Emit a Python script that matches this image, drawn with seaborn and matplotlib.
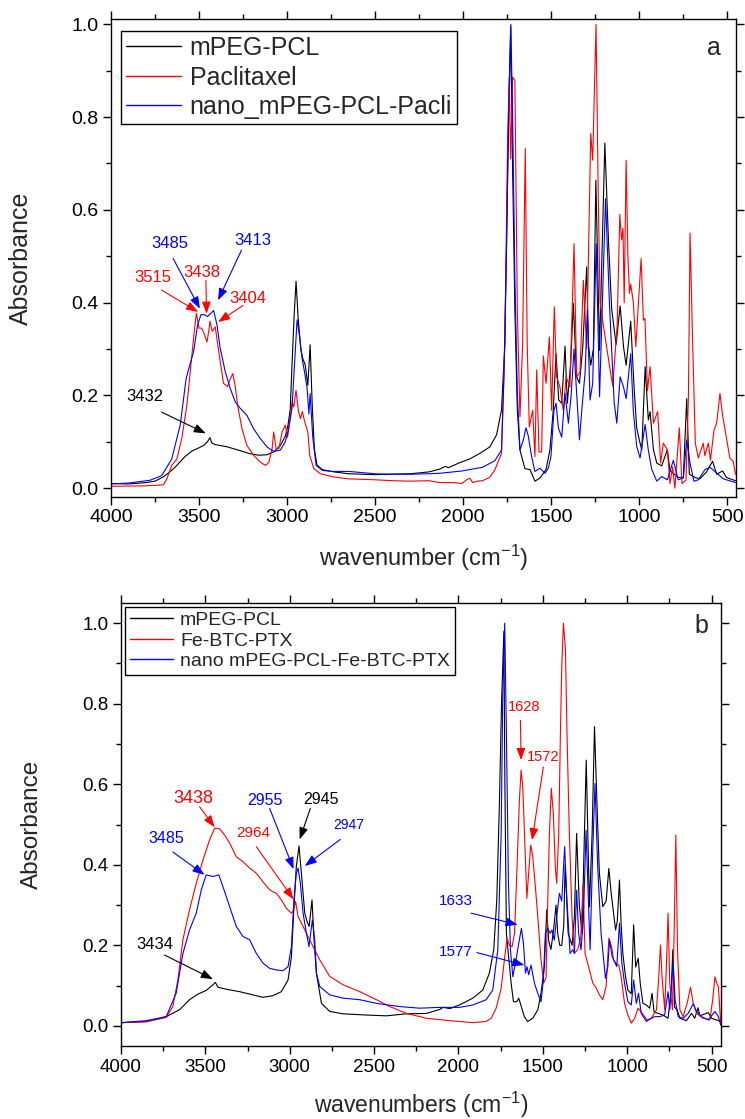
import matplotlib
matplotlib.use("Agg")
import matplotlib.pyplot as plt
import seaborn as sns
import pandas as pd
from matplotlib.ticker import MultipleLocator, FormatStrFormatter

# ---------------- data: panel a ----------------
a_peg_wn = [4000, 3900, 3800, 3750, 3700, 3650, 3626, 3580, 3540, 3500, 3470, 3452, 3438, 3428, 3410, 3380, 3340, 3304,
            3250, 3209, 3160, 3114, 3076, 3038, 3010, 2995, 2982, 2972, 2960, 2949, 2937, 2922, 2911, 2897, 2882, 2869,
            2857, 2845, 2830, 2800, 2734, 2650, 2500, 2428, 2300, 2194, 2133, 2100, 2085, 2060, 2019, 1962, 1905, 1848,
            1810, 1782, 1763, 1744, 1730, 1721, 1706, 1692, 1677, 1649, 1620, 1592, 1563, 1529, 1507, 1488, 1472, 1457,
            1440, 1421, 1408, 1389, 1374, 1355, 1339, 1320, 1298, 1288, 1275, 1260, 1246, 1225, 1195, 1174, 1156, 1131,
            1108, 1089, 1074, 1048, 1029, 1014, 995, 985, 966, 948, 938, 919, 900, 872, 840, 825, 778, 749, 730, 715,
            683, 655, 617, 583, 560, 526, 504, 453]
a_peg_abs = [0.010, 0.009, 0.012, 0.015, 0.025, 0.040, 0.049, 0.068, 0.080, 0.087, 0.093, 0.100, 0.109, 0.098, 0.094,
             0.092, 0.089, 0.085, 0.079, 0.074, 0.071, 0.072, 0.078, 0.092, 0.112, 0.135, 0.170, 0.265, 0.370, 0.446,
             0.367, 0.300, 0.280, 0.266, 0.222, 0.309, 0.179, 0.085, 0.050, 0.040, 0.035, 0.031, 0.029, 0.030, 0.031,
             0.035, 0.041, 0.047, 0.044, 0.048, 0.055, 0.063, 0.075, 0.089, 0.115, 0.168, 0.310, 0.740, 0.995, 0.740,
             0.384, 0.168, 0.082, 0.042, 0.040, 0.015, 0.022, 0.040, 0.082, 0.168, 0.290, 0.190, 0.183, 0.306, 0.183,
             0.270, 0.398, 0.240, 0.226, 0.306, 0.477, 0.310, 0.265, 0.300, 0.664, 0.297, 0.744, 0.530, 0.386, 0.310,
             0.393, 0.305, 0.265, 0.360, 0.218, 0.130, 0.097, 0.083, 0.262, 0.147, 0.165, 0.083, 0.054, 0.048, 0.083,
             0.038, 0.023, 0.023, 0.193, 0.030, 0.023, 0.020, 0.035, 0.058, 0.030, 0.037, 0.023, 0.016]

a_ptx_wn = [4000, 3800, 3702, 3683, 3655, 3626, 3598, 3569, 3546, 3527, 3515, 3500, 3486, 3473, 3455, 3444, 3438, 3425,
            3408, 3394, 3380, 3361, 3338, 3323, 3308, 3294, 3281, 3256, 3228, 3190, 3152, 3123, 3104, 3085, 3076, 3062,
            3047, 3028, 3010, 2997, 2971, 2962, 2949, 2935, 2924, 2913, 2901, 2882, 2871, 2848, 2810, 2734, 2650, 2500,
            2400, 2300, 2194, 2133, 2054, 2007, 1977, 1962, 1945, 1920, 1890, 1850, 1820, 1782, 1763, 1748, 1738, 1730,
            1719, 1706, 1692, 1677, 1662, 1647, 1636, 1624, 1605, 1592, 1582, 1569, 1554, 1544, 1529, 1510, 1497, 1482,
            1469, 1450, 1431, 1415, 1393, 1370, 1355, 1336, 1317, 1298, 1275, 1264, 1245, 1232, 1222, 1199, 1165, 1150,
            1125, 1110, 1100, 1092, 1085, 1074, 1064, 1055, 1048, 1033, 1019, 989, 976, 967, 953, 938, 919, 895, 878,
            863, 840, 825, 810, 797, 772, 757, 734, 720, 711, 696, 681, 664, 636, 627, 607, 595, 575, 560, 541, 526,
            504, 485, 466, 453]
a_ptx_abs = [0.004, 0.005, 0.007, 0.020, 0.049, 0.063, 0.107, 0.179, 0.265, 0.338, 0.377, 0.345, 0.345, 0.335, 0.315,
             0.340, 0.360, 0.338, 0.348, 0.310, 0.273, 0.226, 0.219, 0.235, 0.247, 0.219, 0.179, 0.128, 0.092, 0.071,
             0.056, 0.049, 0.055, 0.085, 0.121, 0.085, 0.085, 0.121, 0.136, 0.110, 0.186, 0.175, 0.211, 0.165, 0.150,
             0.165, 0.145, 0.121, 0.070, 0.042, 0.031, 0.024, 0.020, 0.018, 0.016, 0.015, 0.016, 0.012, 0.012, 0.010,
             0.019, 0.021, 0.012, 0.015, 0.016, 0.023, 0.039, 0.075, 0.310, 0.735, 0.886, 0.710, 0.886, 0.879, 0.384,
             0.154, 0.310, 0.732, 0.310, 0.132, 0.168, 0.068, 0.255, 0.078, 0.078, 0.285, 0.226, 0.326, 0.168, 0.391,
             0.240, 0.218, 0.168, 0.240, 0.218, 0.527, 0.240, 0.250, 0.448, 0.300, 0.765, 0.707, 1.000, 0.620, 0.400,
             0.340, 0.255, 0.220, 0.350, 0.590, 0.535, 0.560, 0.400, 0.707, 0.500, 0.420, 0.440, 0.400, 0.305, 0.495,
             0.362, 0.366, 0.210, 0.262, 0.140, 0.165, 0.054, 0.097, 0.083, 0.010, 0.046, 0.000, 0.130, 0.010, 0.017,
             0.200, 0.550, 0.310, 0.097, 0.065, 0.097, 0.070, 0.097, 0.060, 0.125, 0.140, 0.204, 0.157, 0.107, 0.065,
             0.058, 0.030]

a_nano_wn = [4000, 3900, 3778, 3712, 3655, 3607, 3573, 3550, 3531, 3508, 3489, 3470, 3452, 3433, 3417, 3398, 3380, 3351,
             3323, 3294, 3266, 3228, 3190, 3152, 3114, 3076, 3038, 3010, 2991, 2972, 2958, 2943, 2930, 2915, 2901, 2886,
             2876, 2869, 2854, 2835, 2797, 2740, 2649, 2500, 2428, 2300, 2200, 2133, 2007, 1890, 1820, 1782, 1768, 1753,
             1742, 1729, 1719, 1706, 1692, 1677, 1658, 1643, 1630, 1611, 1592, 1563, 1535, 1516, 1501, 1484, 1472, 1459,
             1440, 1421, 1402, 1387, 1370, 1355, 1339, 1326, 1307, 1294, 1279, 1264, 1244, 1225, 1191, 1169, 1142, 1127,
             1108, 1089, 1074, 1048, 1033, 1014, 995, 966, 948, 929, 900, 872, 840, 806, 778, 749, 730, 711, 689, 664,
             626, 598, 564, 522, 453]
a_nano_abs = [0.009, 0.011, 0.017, 0.027, 0.063, 0.136, 0.237, 0.269, 0.294, 0.352, 0.374, 0.374, 0.370, 0.377, 0.383,
              0.352, 0.302, 0.251, 0.215, 0.186, 0.172, 0.157, 0.128, 0.107, 0.089, 0.079, 0.082, 0.100, 0.128, 0.172,
              0.265, 0.363, 0.330, 0.280, 0.251, 0.215, 0.160, 0.204, 0.110, 0.049, 0.038, 0.036, 0.036, 0.031, 0.030,
              0.030, 0.031, 0.032, 0.037, 0.045, 0.059, 0.082, 0.240, 0.527, 0.810, 1.000, 0.810, 0.455, 0.204, 0.082,
              0.104, 0.130, 0.113, 0.068, 0.036, 0.043, 0.032, 0.043, 0.068, 0.168, 0.183, 0.130, 0.110, 0.204, 0.140,
              0.197, 0.300, 0.204, 0.104, 0.168, 0.250, 0.384, 0.190, 0.226, 0.527, 0.197, 0.624, 0.400, 0.185, 0.140,
              0.240, 0.218, 0.193, 0.290, 0.165, 0.090, 0.065, 0.137, 0.082, 0.041, 0.015, 0.025, 0.018, 0.060, 0.018,
              0.022, 0.104, 0.054, 0.015, 0.018, 0.040, 0.045, 0.034, 0.020, 0.012]

# ---------------- data: panel b ----------------
b_peg_wn = [4000, 3850, 3732, 3653, 3594, 3544, 3495, 3455, 3441, 3425, 3376, 3297, 3218, 3159, 3100, 3050, 3010, 2990,
            2975, 2961, 2945, 2931, 2911, 2897, 2885, 2868, 2856, 2842, 2812, 2763, 2684, 2546, 2427, 2308, 2190, 2110,
            2091, 2051, 1994, 1915, 1856, 1817, 1791, 1773, 1757, 1745, 1731, 1725, 1716, 1688, 1674, 1655, 1643, 1629,
            1610, 1590, 1560, 1530, 1511, 1491, 1477, 1465, 1452, 1436, 1422, 1412, 1400, 1388, 1376, 1368, 1350, 1327,
            1313, 1300, 1284, 1268, 1243, 1224, 1208, 1194, 1180, 1165, 1145, 1125, 1109, 1095, 1081, 1069, 1059, 1046,
            1036, 1026, 1010, 996, 976, 962, 950, 935, 923, 907, 887, 867, 853, 841, 817, 788, 758, 748, 738, 730, 720,
            704, 688, 649, 619, 600, 580, 570, 520, 500, 446]
b_peg_abs = [0.008, 0.011, 0.023, 0.040, 0.065, 0.079, 0.088, 0.102, 0.108, 0.096, 0.091, 0.085, 0.077, 0.071, 0.075,
             0.085, 0.114, 0.172, 0.296, 0.396, 0.447, 0.379, 0.280, 0.259, 0.247, 0.313, 0.214, 0.131, 0.056, 0.036,
             0.030, 0.027, 0.025, 0.030, 0.031, 0.041, 0.046, 0.043, 0.052, 0.069, 0.089, 0.131, 0.189, 0.313, 0.561,
             0.800, 0.980, 0.600, 0.230, 0.106, 0.060, 0.060, 0.069, 0.050, 0.023, 0.011, 0.019, 0.040, 0.081, 0.147,
             0.288, 0.210, 0.190, 0.240, 0.300, 0.230, 0.200, 0.200, 0.250, 0.400, 0.230, 0.200, 0.271, 0.478, 0.300,
             0.230, 0.660, 0.296, 0.478, 0.743, 0.561, 0.379, 0.296, 0.310, 0.391, 0.329, 0.280, 0.238, 0.260, 0.362,
             0.250, 0.180, 0.122, 0.089, 0.080, 0.251, 0.146, 0.168, 0.106, 0.056, 0.052, 0.044, 0.081, 0.035, 0.031,
             0.027, 0.019, 0.056, 0.100, 0.189, 0.047, 0.040, 0.019, 0.013, 0.031, 0.019, 0.045, 0.025, 0.033, 0.019,
             0.011]

b_fe_wn = [4000, 3850, 3732, 3693, 3663, 3633, 3594, 3554, 3514, 3475, 3445, 3415, 3386, 3356, 3317, 3277, 3238, 3198,
           3159, 3119, 3095, 3079, 3050, 3020, 2990, 2980, 2965, 2951, 2921, 2892, 2862, 2822, 2763, 2684, 2585, 2486,
           2407, 2308, 2190, 2051, 1994, 1915, 1836, 1806, 1777, 1747, 1728, 1712, 1698, 1682, 1668, 1653, 1639, 1629,
           1619, 1609, 1595, 1586, 1572, 1560, 1546, 1530, 1511, 1495, 1481, 1471, 1461, 1450, 1438, 1426, 1418, 1406,
           1396, 1388, 1378, 1366, 1357, 1343, 1327, 1313, 1293, 1275, 1262, 1250, 1224, 1204, 1185, 1165, 1145, 1125,
           1109, 1093, 1081, 1065, 1050, 1036, 1016, 996, 976, 956, 936, 911, 883, 857, 827, 813, 803, 794, 778, 768,
           758, 748, 732, 722, 712, 702, 688, 669, 645, 625, 609, 589, 550, 510, 494, 480, 470, 460, 446]
b_fe_abs = [0.008, 0.010, 0.021, 0.048, 0.114, 0.214, 0.288, 0.354, 0.412, 0.462, 0.491, 0.489, 0.474, 0.454, 0.420,
            0.408, 0.392, 0.379, 0.358, 0.338, 0.332, 0.329, 0.313, 0.292, 0.280, 0.285, 0.309, 0.272, 0.247, 0.222,
            0.197, 0.164, 0.123, 0.102, 0.085, 0.065, 0.048, 0.031, 0.019, 0.013, 0.011, 0.008, 0.011, 0.019, 0.044,
            0.093, 0.164, 0.218, 0.200, 0.197, 0.230, 0.395, 0.561, 0.635, 0.594, 0.478, 0.317, 0.370, 0.449, 0.420,
            0.354, 0.271, 0.164, 0.106, 0.120, 0.313, 0.478, 0.590, 0.528, 0.395, 0.354, 0.478, 0.726, 0.892, 1.000,
            0.933, 0.726, 0.478, 0.271, 0.180, 0.190, 0.220, 0.350, 0.180, 0.139, 0.106, 0.095, 0.077, 0.065, 0.098,
            0.218, 0.197, 0.164, 0.155, 0.151, 0.122, 0.056, 0.027, 0.007, 0.019, 0.044, 0.031, 0.015, 0.019, 0.040,
            0.122, 0.201, 0.122, 0.040, 0.147, 0.280, 0.106, 0.040, 0.230, 0.474, 0.188, 0.040, 0.023, 0.056, 0.096,
            0.056, 0.031, 0.019, 0.015, 0.064, 0.122, 0.106, 0.098, 0.007]

b_nano_wn = [4000, 3850, 3732, 3673, 3633, 3594, 3554, 3524, 3495, 3455, 3420, 3396, 3356, 3317, 3277, 3238, 3198, 3159,
             3119, 3079, 3040, 3010, 2990, 2975, 2961, 2951, 2937, 2921, 2901, 2886, 2866, 2852, 2842, 2822, 2763, 2684,
             2585, 2486, 2348, 2229, 2112, 1994, 1915, 1836, 1797, 1767, 1747, 1738, 1726, 1716, 1704, 1692, 1678, 1659,
             1643, 1627, 1615, 1603, 1594, 1584, 1570, 1550, 1530, 1511, 1497, 1485, 1471, 1457, 1446, 1432, 1418, 1402,
             1388, 1371, 1357, 1339, 1323, 1313, 1300, 1288, 1274, 1260, 1244, 1230, 1220, 1205, 1191, 1175, 1155, 1129,
             1115, 1105, 1089, 1075, 1062, 1046, 1032, 1016, 996, 976, 962, 946, 933, 917, 887, 857, 837, 808, 778, 758,
             748, 728, 716, 698, 669, 639, 609, 589, 560, 520, 480, 460, 446]
b_nano_abs = [0.008, 0.013, 0.023, 0.081, 0.180, 0.238, 0.280, 0.338, 0.375, 0.371, 0.375, 0.346, 0.296, 0.247, 0.222,
              0.214, 0.180, 0.156, 0.143, 0.139, 0.137, 0.147, 0.197, 0.313, 0.379, 0.392, 0.354, 0.280, 0.230, 0.197,
              0.263, 0.214, 0.131, 0.098, 0.077, 0.069, 0.065, 0.056, 0.048, 0.044, 0.046, 0.046, 0.052, 0.065, 0.089,
              0.189, 0.478, 0.809, 1.000, 0.727, 0.354, 0.189, 0.122, 0.164, 0.205, 0.242, 0.205, 0.131, 0.147, 0.127,
              0.151, 0.106, 0.081, 0.060, 0.114, 0.230, 0.242, 0.230, 0.238, 0.213, 0.271, 0.329, 0.310, 0.445, 0.310,
              0.180, 0.189, 0.180, 0.337, 0.230, 0.189, 0.263, 0.486, 0.310, 0.189, 0.428, 0.602, 0.395, 0.230, 0.118,
              0.147, 0.213, 0.172, 0.159, 0.147, 0.255, 0.156, 0.106, 0.060, 0.052, 0.114, 0.056, 0.081, 0.031, 0.011,
              0.019, 0.023, 0.023, 0.027, 0.085, 0.040, 0.160, 0.064, 0.023, 0.019, 0.031, 0.055, 0.036, 0.023, 0.015,
              0.036, 0.023, 0.002]

a_labels = ["mPEG-PCL", "Paclitaxel", "nano_mPEG-PCL-Pacli"]
b_labels = ["mPEG-PCL", "Fe-BTC-PTX", "nano mPEG-PCL-Fe-BTC-PTX"]
colors = ["#000000", "#ff0000", "#0000ff"]

# annotations: (text, color, fontsize, text_xy, arrow_tail, arrow_tip)
a_notes = [
    ("3485", "#0000ff", 12, (3665, 0.527), (3647, 0.495), (3495, 0.387)),
    ("3413", "#0000ff", 12, (3193, 0.534), (3259, 0.513), (3392, 0.405)),
    ("3515", "#ff0000", 12, (3760, 0.455), (3713, 0.427), (3505, 0.380)),
    ("3438", "#ff0000", 12, (3486, 0.466), (3461, 0.448), (3457, 0.376)),
    ("3404", "#ff0000", 12, (3221, 0.409), (3250, 0.394), (3392, 0.358)),
    ("3432", "#000000", 12, (3807, 0.198), (3713, 0.164), (3461, 0.118)),
]
b_notes = [
    ("3438", "#ff0000", 13, (3574, 0.565), (3534, 0.544), (3445, 0.493)),
    ("3485", "#0000ff", 11.5, (3732, 0.466), (3693, 0.432), (3505, 0.375)),
    ("2964", "#ff0000", 11, (3218, 0.478), (3198, 0.445), (2977, 0.314)),
    ("2955", "#0000ff", 11.5, (3145, 0.559), (3119, 0.540), (2977, 0.389)),
    ("2945", "#000000", 11.5, (2817, 0.561), (2878, 0.540), (2941, 0.463)),
    ("2947", "#0000ff", 10, (2649, 0.499), (2700, 0.463), (2911, 0.397)),
    ("3434", "#000000", 12, (3801, 0.203), (3742, 0.176), (3455, 0.116)),
    ("1628", "#ff0000", 10.5, (1609, 0.792), (1633, 0.759), (1629, 0.660)),
    ("1572", "#ff0000", 10.5, (1501, 0.668), (1497, 0.643), (1564, 0.461)),
    ("1633", "#0000ff", 11, (2014, 0.309), (1925, 0.280), (1649, 0.251)),
    ("1577", "#0000ff", 11, (2014, 0.184), (1891, 0.182), (1609, 0.151)),
]

# ---------------- style ----------------
sns.set_theme(style="ticks")
plt.rcParams["font.family"] = ["Liberation Sans", "DejaVu Sans"]
plt.rcParams["mathtext.fontset"] = "custom"
plt.rcParams["mathtext.rm"] = "Liberation Sans"
plt.rcParams["mathtext.it"] = "Liberation Sans:italic"
plt.rcParams["axes.edgecolor"] = "black"
plt.rcParams["axes.linewidth"] = 1.0

fig = plt.figure(figsize=(7.45, 11.19), dpi=100)
axA = fig.add_axes([0.1490, 0.5559, 0.8389, 0.4269])
axB = fig.add_axes([0.1624, 0.0652, 0.8050, 0.3959])


def draw_panel(ax, series, labels, notes, xlim, ylim, tick_fs, leg_fs, leg_anchor, leg_spacing,
               leg_pad, xlabel, lab_fs, ylab_x, xlab_y, letter, letter_xy):
    for (wn, ab), lab, col in zip(series, labels, colors):
        df = pd.DataFrame({"wn": wn, "A": ab})
        sns.lineplot(data=df, x="wn", y="A", ax=ax, color=col, lw=0.8, sort=False,
                     estimator=None, label=lab)
    ax.set_xlim(*xlim)
    ax.set_ylim(*ylim)
    ax.xaxis.set_major_locator(MultipleLocator(500))
    ax.xaxis.set_minor_locator(MultipleLocator(250))
    ax.yaxis.set_major_locator(MultipleLocator(0.2))
    ax.yaxis.set_minor_locator(MultipleLocator(0.1))
    ax.yaxis.set_major_formatter(FormatStrFormatter("%.1f"))
    ax.tick_params(which="both", direction="out", top=True, right=True, width=1.0,
                   labelsize=tick_fs, colors="black")
    ax.tick_params(which="major", length=6, pad=3)
    ax.tick_params(which="minor", length=3.5)
    ax.set_xlabel(xlabel, fontsize=lab_fs, va="top")
    ax.set_ylabel("Absorbance", fontsize=lab_fs + 1)
    ax.yaxis.set_label_coords(ylab_x, 0.5)
    ax.xaxis.set_label_coords(0.5, xlab_y)
    for s in ax.spines.values():
        s.set_visible(True)
        s.set_color("black")
    leg = ax.legend(loc="upper left", bbox_to_anchor=leg_anchor, borderaxespad=0,
                    fontsize=leg_fs, frameon=True, fancybox=False, edgecolor="black",
                    handlelength=2.2, handletextpad=0.35, labelspacing=leg_spacing,
                    borderpad=leg_pad, framealpha=1)
    leg.get_frame().set_linewidth(1.0)
    for line in leg.get_lines():
        line.set_linewidth(1.0)
    for txt, col, fs, txy, tail, tip in notes:
        ax.text(txy[0], txy[1], txt, color=col, fontsize=fs, ha="center", va="center")
        ax.annotate("", xy=tip, xytext=tail,
                    arrowprops=dict(arrowstyle="-|>,head_length=0.6,head_width=0.22",
                                    color=col, lw=0.8, mutation_scale=12,
                                    shrinkA=0, shrinkB=0))
    ax.text(letter_xy[0], letter_xy[1], letter, transform=ax.transAxes, fontsize=18,
            ha="center", va="center")


draw_panel(axA, [(a_peg_wn, a_peg_abs), (a_ptx_wn, a_ptx_abs), (a_nano_wn, a_nano_abs)],
           a_labels, a_notes, (4000, 450), (-0.019, 1.011), 14, 18, (0.016, 0.975), 0.22, 0.2,
           r"wavenumber ($\mathregular{cm^{-1}}$)", 17, -0.125, -0.095, "a", (0.965, 0.94))
draw_panel(axB, [(b_peg_wn, b_peg_abs), (b_fe_wn, b_fe_abs), (b_nano_wn, b_nano_abs)],
           b_labels, b_notes, (4000, 446), (-0.05, 1.05), 13.5, 14, (0.0075, 0.992), 0.15, 0.25,
           r"wavenumbers ($\mathregular{cm^{-1}}$)", 16.5, -0.130, -0.099, "b", (0.968, 0.948))

fig.savefig("out.png", dpi=100)
